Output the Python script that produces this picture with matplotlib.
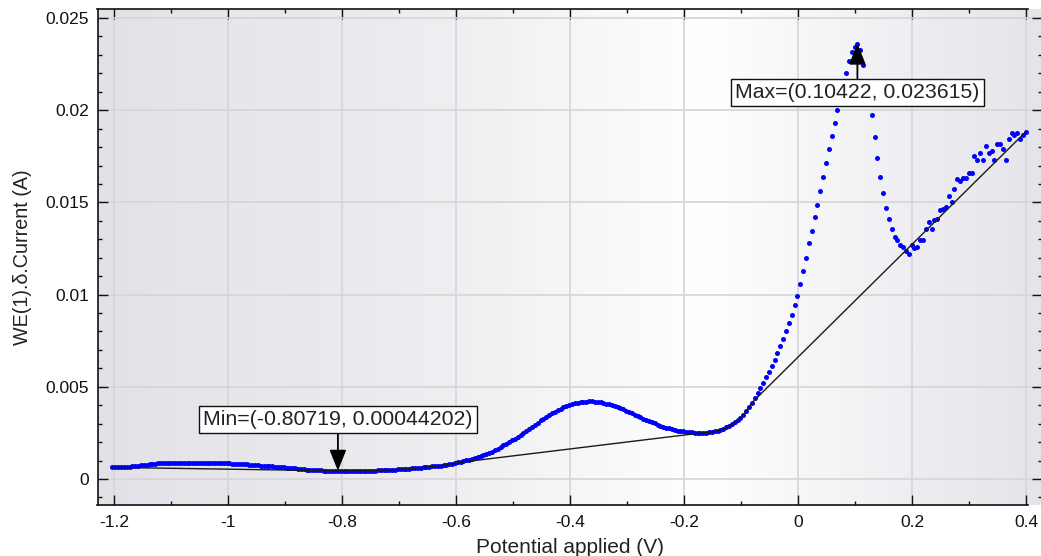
import numpy as np
import matplotlib
matplotlib.use("Agg")
import matplotlib.pyplot as plt
from matplotlib.colors import LinearSegmentedColormap
from matplotlib.ticker import MultipleLocator, FuncFormatter

# Potential sweep of the measurement (start and step, V)
E_START = -1.20280
E_STEP = 0.00500775

# Differential current, mA, one value per potential step
current_tail_mA = [
    0.63, 0.63, 0.64, 0.64, 0.65, 0.66, 0.67, 0.68, 0.70, 0.72,
    0.74, 0.76, 0.78, 0.80, 0.82, 0.84, 0.85, 0.86, 0.87, 0.88,
    0.88, 0.89, 0.89, 0.88, 0.89, 0.89, 0.88, 0.88, 0.89, 0.88,
    0.88, 0.88, 0.87, 0.88, 0.88, 0.87, 0.87, 0.87, 0.86, 0.86,
    0.86, 0.85, 0.84, 0.84, 0.83, 0.82, 0.81, 0.80, 0.78, 0.77,
    0.76, 0.74, 0.73, 0.72, 0.71, 0.70, 0.69, 0.67, 0.66, 0.65,
    0.63, 0.62, 0.60, 0.59, 0.57, 0.56, 0.54, 0.53, 0.51, 0.50,
    0.49, 0.48, 0.47, 0.47, 0.46, 0.46, 0.45, 0.45, 0.45, 0.44202,
    0.45, 0.45, 0.45, 0.45, 0.45, 0.45, 0.45, 0.45, 0.45, 0.45,
    0.46, 0.46, 0.46, 0.47, 0.47, 0.48, 0.49, 0.49, 0.50, 0.51,
    0.52, 0.53, 0.54, 0.55, 0.56, 0.57, 0.59, 0.60, 0.61, 0.63,
    0.64, 0.66, 0.68, 0.69, 0.71, 0.73, 0.76, 0.78, 0.81, 0.84,
]
current_wave1_mA = [
    0.87, 0.90, 0.94, 0.97, 1.01, 1.05, 1.09, 1.13, 1.18, 1.23,
    1.29, 1.35, 1.42, 1.49, 1.57, 1.65, 1.73, 1.82, 1.91, 2.00,
    2.09, 2.19, 2.29, 2.39, 2.50, 2.61, 2.72, 2.83, 2.95, 3.06,
    3.18, 3.28, 3.38, 3.48, 3.57, 3.66, 3.74, 3.82, 3.89, 3.95,
    4.01, 4.06, 4.10, 4.14, 4.17, 4.19, 4.20, 4.21, 4.21, 4.20,
    4.18, 4.16, 4.13, 4.09, 4.05, 4.00, 3.95, 3.89, 3.83, 3.77,
    3.70, 3.63, 3.56, 3.49, 3.42, 3.35, 3.28, 3.21, 3.14, 3.08,
    3.01, 2.95, 2.89, 2.84, 2.79, 2.74, 2.70, 2.66, 2.63, 2.60,
    2.58, 2.56, 2.54, 2.53, 2.52, 2.51, 2.51, 2.51, 2.52, 2.53,
    2.55, 2.58, 2.62, 2.67, 2.73, 2.80, 2.88, 2.97, 3.07, 3.18,
    3.31, 3.47, 3.68, 3.90, 4.13, 4.38, 4.64, 4.92, 5.21, 5.51,
    5.82, 6.14, 6.47, 6.82, 7.19, 7.58, 8.00, 8.45, 8.92, 9.42,
]
current_peak_mA = [
    9.95, 10.6, 11.3, 12.0, 12.78, 13.45, 14.19, 14.86, 15.62, 16.39,
    17.12, 17.9, 18.62, 19.29, 20.0, 20.7, 21.4, 22.03, 22.68, 23.17,
    23.45, 23.615, 23.26, 22.45, 21.3, 20.5, 19.74, 18.53, 17.42, 16.39,
    15.49, 14.68, 14.1, 13.54, 13.14, 12.96,
]
current_rise_mA = [
    12.69, 12.56, 12.38, 12.2, 12.69, 12.51, 12.56, 12.96, 12.96, 13.56,
    13.92, 13.56, 14.05, 14.1, 14.59, 14.63, 14.77, 15.35, 15.04, 15.71,
    16.25, 16.18, 16.31, 16.31, 16.58, 16.58, 17.52, 17.3, 17.7, 17.3,
    18.07, 17.66, 17.8, 17.3, 18.17, 18.17, 17.88, 17.3, 18.44, 18.78,
    18.66, 18.78, 18.42, 18.66, 18.83,
]

# Baseline vertices, as indices into the scan
BASELINE_IDX = [0] + list(range(79, 121)) + list(range(207, 225)) + [320]

# Plot-area shading (position across the axes, colour)
SHADE_STOPS = [(0.0, "#e1e1e7"), (0.40, "#f0f0f3"), (0.64, "#ffffff"), (1.0, "#e4e4ea")]

current = np.concatenate([current_tail_mA, current_wave1_mA,
                          current_peak_mA, current_rise_mA]) * 1e-3
potential = E_START + E_STEP * np.arange(current.size)

i_min = int(np.argmin(current))
i_max = int(np.argmax(current))

W, H = 1041, 556
fig = plt.figure(figsize=(W / 100, H / 100), dpi=100)
ax = fig.add_axes([97.5 / W, 51 / H, (1042 - 97.5) / W, 496 / H])

x_left, x_right = -1.22895, 0.42807
y_bottom, y_top = -0.00141, 0.025488
ax.set_xlim(x_left, x_right)
ax.set_ylim(y_bottom, y_top)

# background shading
cmap = LinearSegmentedColormap.from_list("shade", SHADE_STOPS)
grad = np.linspace(0, 1, 512)[None, :]
ax.imshow(grad, cmap=cmap, extent=[0, 1, 0, 1], transform=ax.transAxes,
          aspect="auto", zorder=0, interpolation="bilinear")

ax.set_axisbelow(True)
ax.grid(True, which="major", color="#d5d5d8", linewidth=1.2)

# data and baseline
ax.plot(potential, current, linestyle="none", marker="o", markersize=3.6,
        markerfacecolor="#0000ff", markeredgewidth=0, zorder=3)
ax.plot(potential[BASELINE_IDX], current[BASELINE_IDX], color="#1a1a1a",
        linewidth=1.0, zorder=4)

# axes styling
font = "Liberation Sans"
ax.xaxis.set_major_locator(MultipleLocator(0.2))
ax.xaxis.set_minor_locator(MultipleLocator(0.1))
ax.yaxis.set_major_locator(MultipleLocator(0.005))
ax.yaxis.set_minor_locator(MultipleLocator(0.001))
fmt = FuncFormatter(lambda v, p: f"{round(v, 6):g}")
ax.xaxis.set_major_formatter(fmt)
ax.yaxis.set_major_formatter(fmt)
ax.tick_params(which="both", direction="in", top=True, right=True,
               colors="#111111", width=1.0)
ax.tick_params(which="major", length=7.5, labelsize=12.5)
ax.tick_params(axis="x", which="major", pad=7)
ax.tick_params(axis="y", which="major", pad=6)
ax.tick_params(which="minor", length=3.0)
for lab in ax.get_xticklabels() + ax.get_yticklabels():
    lab.set_fontfamily(font)

for side in ("left", "top", "bottom"):
    ax.spines[side].set_color("#111111")
    ax.spines[side].set_linewidth(1.2)
ax.spines["right"].set_visible(False)
ax.spines["bottom"].set_bounds(x_left, 0.4027)
ax.spines["top"].set_bounds(x_left, 0.4027)

ax.set_xlabel("Potential applied (V)", fontsize=15, family=font,
              color="#222222", labelpad=6)
ax.set_ylabel("WE(1).δ.Current (A)", fontsize=14.2, family=font,
              color="#222222", labelpad=10)

# extremum call-outs
box = dict(boxstyle="square,pad=0.2", facecolor="white",
           edgecolor="#111111", linewidth=1.0)
arrow = dict(arrowstyle="-|>,head_length=0.8,head_width=0.32", color="black",
             linewidth=1.3, shrinkA=0, shrinkB=0, mutation_scale=16)
xm, ym = potential[i_max], current[i_max]
ax.annotate(f"Max=({xm:.5g}, {ym:.5g})", xy=(xm, ym), xytext=(0, -35.3),
            textcoords="offset points", ha="center", va="center",
            fontsize=15.3, family=font, color="#222222", bbox=box,
            arrowprops=arrow, zorder=6)
xn, yn = potential[i_min], current[i_min]
ax.annotate(f"Min=({xn:.5g}, {yn:.5g})", xy=(xn, yn), xytext=(0, 37.0),
            textcoords="offset points", ha="center", va="center",
            fontsize=15.3, family=font, color="#222222", bbox=box,
            arrowprops=arrow, zorder=6)

fig.savefig("out.png", dpi=100)
